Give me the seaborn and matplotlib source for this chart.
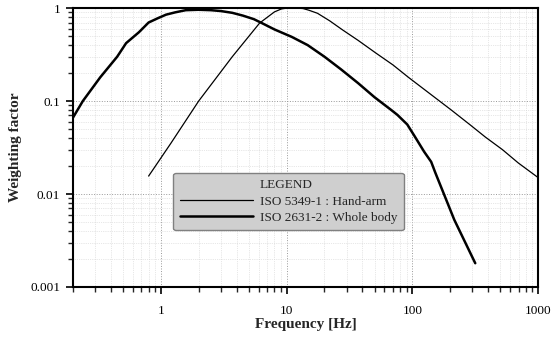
import numpy as np
import pandas as pd
import seaborn as sns
import matplotlib.pyplot as plt
from matplotlib.lines import Line2D
from matplotlib.ticker import FixedLocator, FixedFormatter, LogLocator, NullFormatter

# values
hand_arm_freq = [0.8, 0.86, 1.2, 2.0, 3.7, 6.1, 8.0, 9.1, 10, 12, 13.5, 15, 17.6, 22, 28, 37, 51, 70,
                 93, 140, 204, 290, 380, 520, 694, 1000]
hand_arm_val = [0.0156, 0.018, 0.035, 0.10, 0.30, 0.69, 0.91, 0.98, 1.0, 1.0, 0.99, 0.95, 0.88, 0.73, 0.58,
                0.45, 0.33, 0.245, 0.18, 0.118, 0.080, 0.055, 0.041, 0.030, 0.0216, 0.015]

whole_body_freq = [0.2, 0.24, 0.33, 0.45, 0.53, 0.67, 0.80, 0.95, 1.1, 1.3, 1.58, 2.0, 2.5, 3.0, 3.7, 4.5,
                   5.5, 6.5, 8.0, 11, 14.7, 20, 27, 37, 50, 68, 76, 91, 104, 124, 141, 152, 215, 316]
whole_body_val = [0.066, 0.10, 0.18, 0.30, 0.42, 0.55, 0.70, 0.78, 0.85, 0.90, 0.95, 0.96, 0.95, 0.93, 0.89,
                  0.83, 0.76, 0.68, 0.59, 0.49, 0.40, 0.30, 0.22, 0.156, 0.11, 0.080, 0.071, 0.056, 0.042,
                  0.0285, 0.0222, 0.0170, 0.0053, 0.0018]

x_ticks = [1, 10, 100, 1000]
y_ticks = [0.001, 0.01, 0.1, 1]
y_tick_labels = ["0.001", "0.01", "0.1", "1"]

ha = pd.DataFrame({"freq": hand_arm_freq, "val": hand_arm_val})
wb = pd.DataFrame({"freq": whole_body_freq, "val": whole_body_val})

sns.set_style("ticks")
plt.rcParams["font.family"] = ["Liberation Serif", "DejaVu Serif"]

fig = plt.figure(figsize=(5.52, 3.38), dpi=100)
ax = fig.add_axes([0.132, 0.151, 0.843, 0.825])

sns.lineplot(data=ha, x="freq", y="val", color="black", linewidth=0.9, ax=ax)
sns.lineplot(data=wb, x="freq", y="val", color="black", linewidth=1.8, ax=ax)

ax.set_xscale("log")
ax.set_yscale("log")
ax.set_xlim(0.2, 1000)
ax.set_ylim(0.001, 1)

ax.xaxis.set_major_locator(FixedLocator(x_ticks))
ax.xaxis.set_major_formatter(FixedFormatter([str(t) for t in x_ticks]))
ax.xaxis.set_minor_locator(LogLocator(base=10, subs=np.arange(2, 10)))
ax.xaxis.set_minor_formatter(NullFormatter())
ax.yaxis.set_major_locator(FixedLocator(y_ticks))
ax.yaxis.set_major_formatter(FixedFormatter(y_tick_labels))
ax.yaxis.set_minor_locator(LogLocator(base=10, subs=np.arange(2, 10)))
ax.yaxis.set_minor_formatter(NullFormatter())

ax.tick_params(which="major", direction="out", length=5, width=1.2, labelsize=9.5, colors="black")
ax.tick_params(axis="x", which="major", pad=8)
ax.tick_params(axis="y", which="major", pad=4)
ax.tick_params(which="minor", direction="out", length=3.5, width=1.0)

ax.grid(which="major", color="#999999", linestyle=":", linewidth=0.7)
ax.grid(which="minor", color="#d0d0d0", linestyle=":", linewidth=0.5)

for sp in ax.spines.values():
    sp.set_linewidth(1.5)
    sp.set_color("black")

ax.set_xlabel("Frequency [Hz]", fontsize=11, fontweight="bold", labelpad=1)
ax.set_ylabel("Weighting factor", fontsize=11, fontweight="bold", labelpad=6)

handles = [
    Line2D([], [], color="none"),
    Line2D([], [], color="black", linewidth=0.9),
    Line2D([], [], color="black", linewidth=1.8),
]
labels = ["LEGEND", "ISO 5349-1 : Hand-arm", "ISO 2631-2 : Whole body"]
leg = ax.legend(handles, labels, loc="upper left", bbox_to_anchor=(0.215, 0.41), borderaxespad=0,
                fontsize=9.5, handlelength=5.6, handletextpad=0.5, labelspacing=0.3,
                frameon=True, fancybox=True, borderpad=0.5)
frame = leg.get_frame()
frame.set_facecolor("#cfcfcf")
frame.set_edgecolor("#808080")
frame.set_alpha(1)

fig.savefig("out.png", dpi=100)
